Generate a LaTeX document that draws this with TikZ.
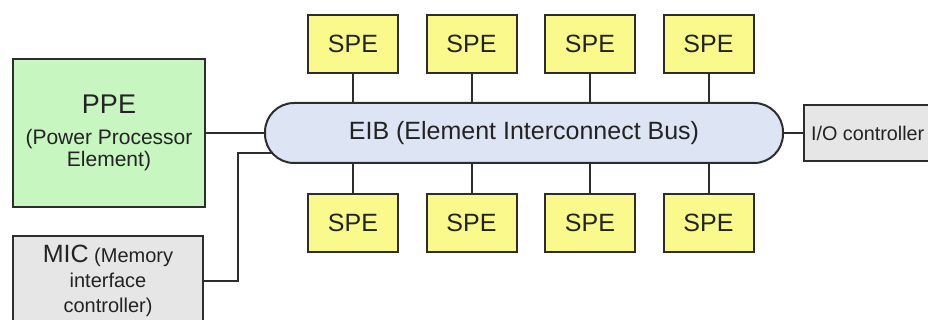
\documentclass[tikz,border=0pt]{standalone}
\usepackage{fontspec}
\setmainfont{Liberation Sans}
\usepackage{tikz}
\usetikzlibrary{positioning,backgrounds}

\definecolor{edgegray}{RGB}{45,45,45}
\definecolor{txtgray}{RGB}{35,35,35}
\definecolor{ppegreen}{RGB}{199,246,193}
\definecolor{speyellow}{RGB}{250,250,140}
\definecolor{busblue}{RGB}{221,229,244}
\definecolor{ctrlgray}{RGB}{230,230,230}

\begin{document}
\begin{tikzpicture}[
    x=1pt, y=-1pt,
    node distance=26.5pt and 26.5pt,
    spe/.style={draw=edgegray, line width=2pt, fill=speyellow, minimum width=90pt, minimum height=58pt, inner sep=0pt, font=\fontsize{25}{30}\selectfont, text=txtgray},
    unit/.style={draw=edgegray, line width=2pt, align=center, inner sep=0pt, text=txtgray},
    link/.style={draw=edgegray, line width=2pt}
]
\useasboundingbox (0,0) rectangle (928,320);

% the bus in the middle
\node[unit, fill=busblue, rounded corners=29pt, minimum width=518pt, minimum height=60pt, font=\fontsize{25}{30}\selectfont] (eib) at (524,133) {EIB (Element Interconnect Bus)};

% synergistic elements above and below the bus
\node[spe] (spe-t1) at (353,44) {SPE};
\node[spe, right=of spe-t1] (spe-t2) {SPE};
\node[spe, right=of spe-t2] (spe-t3) {SPE};
\node[spe, right=of spe-t3] (spe-t4) {SPE};
\node[spe] (spe-b1) at (353,223) {SPE};
\node[spe, right=of spe-b1] (spe-b2) {SPE};
\node[spe, right=of spe-b2] (spe-b3) {SPE};
\node[spe, right=of spe-b3] (spe-b4) {SPE};

% processor, memory and I/O
\node[unit, fill=ppegreen, minimum width=192pt, minimum height=148pt, font=\fontsize{21}{22}\selectfont] (ppe) at (109,133) {{\fontsize{27}{30}\selectfont PPE}\\[9pt](Power Processor\\Element)};
\node[unit, fill=ctrlgray, minimum width=190pt, minimum height=90pt, font=\fontsize{20}{25}\selectfont] (mic) at (108,281) {{\fontsize{25}{30}\selectfont MIC} (Memory\\interface\\controller)};
\node[unit, fill=ctrlgray, anchor=west, minimum height=56pt, inner xsep=7pt, font=\fontsize{19.8}{24}\selectfont] (io) at (803,133) {I/O controller};
\coordinate (bend) at (238,153);

\begin{pgfonlayer}{background}
\draw[link] (ppe) -- (eib);
\draw[link] (eib) -- (io);
\draw[link] (mic) -| (bend) -- (bend -| eib.center);
\draw[link] (spe-t1) -- (spe-t1 |- eib.center);
\draw[link] (spe-t2) -- (spe-t2 |- eib.center);
\draw[link] (spe-t3) -- (spe-t3 |- eib.center);
\draw[link] (spe-t4) -- (spe-t4 |- eib.center);
\draw[link] (spe-b1) -- (spe-b1 |- eib.center);
\draw[link] (spe-b2) -- (spe-b2 |- eib.center);
\draw[link] (spe-b3) -- (spe-b3 |- eib.center);
\draw[link] (spe-b4) -- (spe-b4 |- eib.center);
\end{pgfonlayer}
\end{tikzpicture}
\end{document}
